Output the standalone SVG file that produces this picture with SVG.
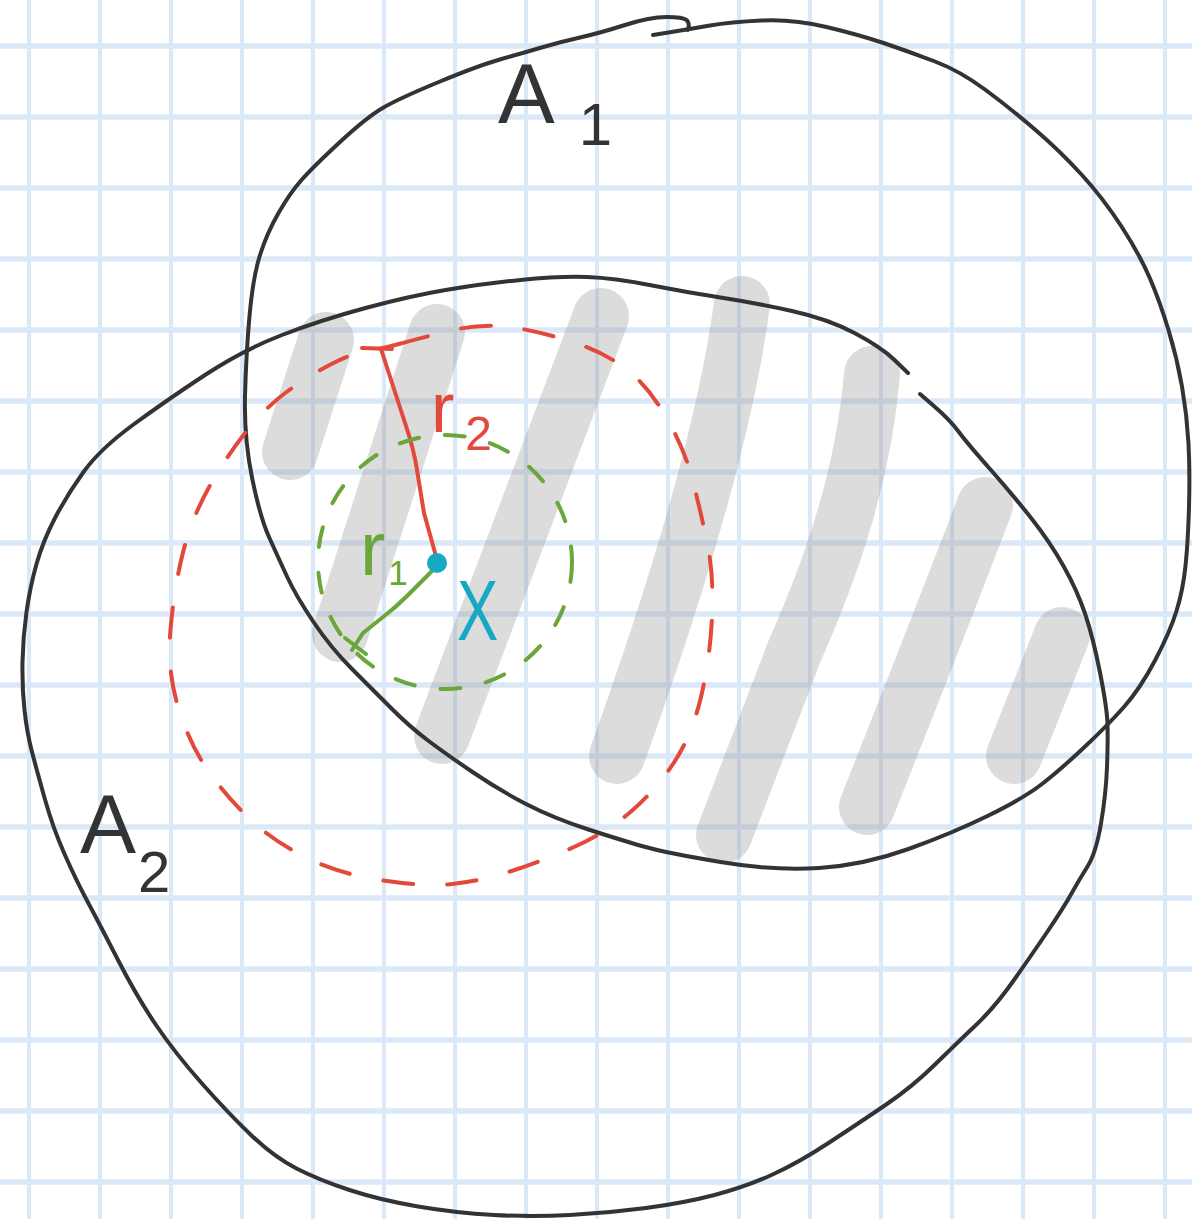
<svg xmlns="http://www.w3.org/2000/svg" width="1192" height="1219" viewBox="0 0 1192 1219">
<style>
.gh{stroke:#dbe8f8;stroke-width:5.5}
.gv{stroke:#dbe8f8;stroke-width:4}
.hatch{fill:none;stroke:#9a9a9a;stroke-opacity:0.35;stroke-width:56;stroke-linecap:round;stroke-linejoin:round}
.outline{fill:none;stroke:#333333;stroke-width:4;stroke-linecap:round;stroke-linejoin:round}
.red{fill:none;stroke:#e2493b;stroke-width:4;stroke-linecap:round;stroke-linejoin:round}
.green{fill:none;stroke:#6aa63a;stroke-width:4;stroke-linecap:round;stroke-linejoin:round}
.lbl{font-family:"Liberation Sans","DejaVu Sans",sans-serif}
</style>
<rect width="1192" height="1219" fill="#ffffff"/>
<g id="grid">
<g class="gv">
<line x1="29" y1="0" x2="29" y2="1219"/><line x1="100" y1="0" x2="100" y2="1219"/><line x1="171" y1="0" x2="171" y2="1219"/><line x1="242" y1="0" x2="242" y2="1219"/><line x1="313" y1="0" x2="313" y2="1219"/><line x1="384" y1="0" x2="384" y2="1219"/><line x1="455" y1="0" x2="455" y2="1219"/><line x1="526" y1="0" x2="526" y2="1219"/><line x1="597" y1="0" x2="597" y2="1219"/><line x1="668" y1="0" x2="668" y2="1219"/><line x1="739" y1="0" x2="739" y2="1219"/><line x1="810" y1="0" x2="810" y2="1219"/><line x1="881" y1="0" x2="881" y2="1219"/><line x1="952" y1="0" x2="952" y2="1219"/><line x1="1023" y1="0" x2="1023" y2="1219"/><line x1="1094" y1="0" x2="1094" y2="1219"/><line x1="1165" y1="0" x2="1165" y2="1219"/>
</g>
<g class="gh">
<line x1="0" y1="46" x2="1192" y2="46"/><line x1="0" y1="117" x2="1192" y2="117"/><line x1="0" y1="188" x2="1192" y2="188"/><line x1="0" y1="259" x2="1192" y2="259"/><line x1="0" y1="330" x2="1192" y2="330"/><line x1="0" y1="401" x2="1192" y2="401"/><line x1="0" y1="472" x2="1192" y2="472"/><line x1="0" y1="543" x2="1192" y2="543"/><line x1="0" y1="614" x2="1192" y2="614"/><line x1="0" y1="685" x2="1192" y2="685"/><line x1="0" y1="756" x2="1192" y2="756"/><line x1="0" y1="827" x2="1192" y2="827"/><line x1="0" y1="898" x2="1192" y2="898"/><line x1="0" y1="969" x2="1192" y2="969"/><line x1="0" y1="1040" x2="1192" y2="1040"/><line x1="0" y1="1111" x2="1192" y2="1111"/><line x1="0" y1="1182" x2="1192" y2="1182"/>
</g>
</g>
<g id="hatching" class="hatch">
<path d="M326,340 L290,452"/>
<path d="M437,332 L340,634"/>
<path d="M601,316 L442,736"/>
<path d="M742,304 Q720,470 617,756"/>
<path d="M872,374 C864,470 835,560 795,650 L724,835"/>
<path d="M985,505 Q945,610 867,807"/>
<path d="M1062,635 L1014,756"/>
</g>
<g id="A1">
<path class="outline" d="M653,35 L671.5,32 Q690,29 710,25.5 Q730,22 761.5,20.5 Q793,19 826.5,27 Q860,35 885,43.5 Q910,52 935,61.5 Q960,71 985,89.5 Q1010,108 1035,129.5 Q1060,151 1081.5,174.5 Q1103,198 1121.5,226.5 Q1140,255 1150,278.5 Q1160,302 1168.5,330 Q1177,358 1182,386.5 Q1187,415 1188.5,443.5 Q1190,472 1189,507 Q1188,542 1185.5,566 Q1183,590 1176.5,611 Q1170,632 1155,660.5 Q1140,689 1123.5,707.5 Q1107,726 1083.5,748 Q1060,770 1042,784 Q1024,798 988.5,815.5 Q953,833 908.5,849 Q864,865 819,868 Q774,871 720.5,862 Q667,853 645.5,847 Q624,841 588.5,829.5 Q553,818 526,804 Q499,790 472.5,772 Q446,754 428,740.5 Q410,727 392,709 Q374,691 352.5,669.5 Q331,648 313.5,622 Q296,596 287,576.5 Q278,557 269,537 Q260,517 252,477.5 Q244,438 245,396.5 Q246,355 249.5,316 Q253,277 260,255 Q267,233 278.5,213 Q290,193 301.5,180 Q313,167 340,142 Q367,117 383.5,107.5 Q400,98 440,81.5 Q480,65 501.5,59 Q523,53 541.5,47.5 Q560,42 580,37.5 Q600,33 625,25 Q650,17 666.5,17 Q683,17 686.5,20 Q690,23 688,30"/>
<text class="lbl" x="498" y="123" font-size="85" fill="#333333">A<tspan font-size="60" dx="24" dy="22">1</tspan></text>
</g>
<g id="A2">
<path class="outline" d="M908,373 L894.5,360 Q881,347 854.5,333 Q828,319 792,311 Q756,303 720.5,297.5 Q685,292 649.5,285 Q614,278 587,277 Q560,276 520.5,280 Q481,284 445.5,290 Q410,296 365.5,308 Q321,320 282,335 Q243,350 205,375 Q167,400 133.5,424.5 Q100,449 83.5,472 Q67,495 55,518 Q43,541 36.5,564 Q30,587 26.5,612 Q23,637 22.5,662 Q22,687 24.5,710 Q27,733 32,752 Q37,771 45,799.5 Q53,828 64.5,854 Q76,880 87.5,901.5 Q99,923 118,960 Q137,997 156,1025 Q175,1053 201.5,1083 Q228,1113 251,1135 Q274,1157 296.5,1168.5 Q319,1180 349.5,1190 Q380,1200 418,1206.5 Q456,1213 494,1215 Q532,1217 570,1215 Q608,1213 646,1208 Q684,1203 714.5,1195 Q745,1187 771.5,1175 Q798,1163 828.5,1143 Q859,1123 885.5,1105 Q912,1087 934.5,1065 Q957,1043 976,1025 Q995,1007 1014,980 Q1033,953 1048.5,930 Q1064,907 1071.5,893.5 Q1079,880 1087.5,866.5 Q1096,853 1101,823.5 Q1106,794 1107,767 Q1108,740 1107.5,724 Q1107,708 1100,672.5 Q1093,637 1085,613.5 Q1077,590 1063.5,566 Q1050,542 1031.5,518.5 Q1013,495 990,469 Q967,443 958.5,431.5 Q950,420 935,407 L920,394"/>
<text class="lbl" x="80" y="853" font-size="84" fill="#333333">A<tspan font-size="58" dx="2" dy="39">2</tspan></text>
</g>
<g id="ball-r2">
<path class="red" stroke-dasharray="30 34" d="M399,344 Q417,339 449,331 Q481,323 510,327 Q539,331 572.5,342 Q606,353 627.5,370 Q649,387 667,418.5 Q685,450 693,481.5 Q701,513 707.5,544.5 Q714,576 712,617.5 Q710,659 701,697 Q692,735 674,762.5 Q656,790 631,811.5 Q606,833 574,847 Q542,861 511.5,871 Q481,881 452.5,884 Q424,887 379.5,880 Q335,873 301,855 Q267,837 244,813.5 Q221,790 205,766 Q189,742 178,706.5 Q167,671 170.5,629.5 Q174,588 183,552.5 Q192,517 210,485.5 Q228,454 247.5,430 Q267,406 288.5,390.5 Q310,375 331.5,364 Q353,353 367,351 Q381,349 399,344 Z"/>
<path class="red" d="M362,348 L392,349 M381,349 L406,426 Q414,450 417,470 L424,513 L437,560"/>
<text class="lbl" x="431" y="432" font-size="70" fill="#e2493b">r<tspan font-size="48" dx="11" dy="18">2</tspan></text>
</g>
<g id="ball-r1">
<circle class="green" cx="445" cy="562" r="127" stroke-dasharray="20 26"/>
<path class="green" d="M437,566 L407,596 Q395,608 383,617 L363,633 L352,650 M345,638 L366,654"/>
<text class="lbl" x="360" y="575" font-size="76" fill="#6aa63a">r<tspan font-size="35" dx="3" dy="10">1</tspan></text>
</g>
<g id="point-x">
<circle cx="437" cy="563" r="10" fill="#17a9c4"/>
<text class="lbl" transform="translate(457,640) scale(0.72,1)" font-size="86" fill="#17a9c4">X</text>
</g>
</svg>
